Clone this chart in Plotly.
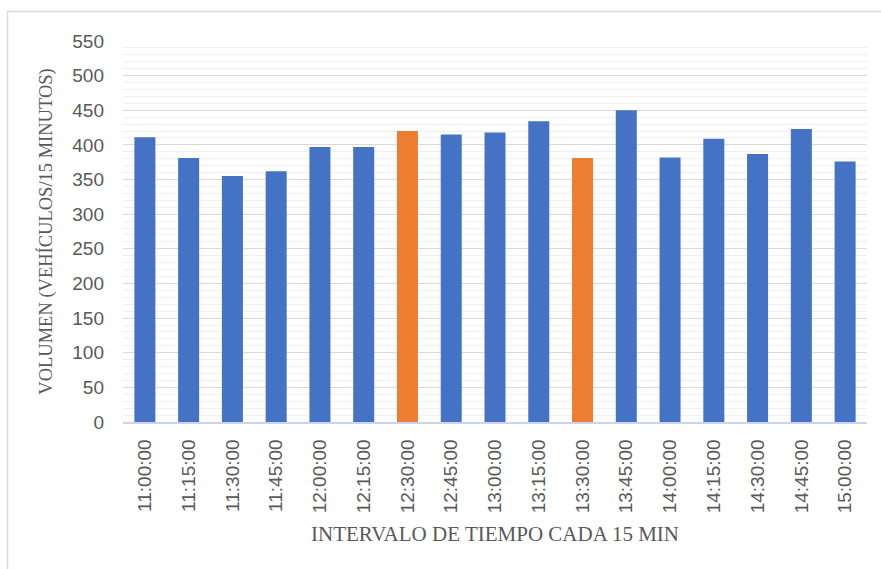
import plotly.graph_objects as go

categories = ["11:00:00", "11:15:00", "11:30:00", "11:45:00", "12:00:00", "12:15:00",
              "12:30:00", "12:45:00", "13:00:00", "13:15:00", "13:30:00", "13:45:00",
              "14:00:00", "14:15:00", "14:30:00", "14:45:00", "15:00:00"]
volumes = [411, 381, 355, 362, 397, 397, 420, 415, 418, 434, 381, 450, 382, 409, 387, 423, 376]
highlighted = ["12:30:00", "13:30:00"]

BLUE = "#4472C4"
ORANGE = "#ED7D31"
colors = [ORANGE if c in highlighted else BLUE for c in categories]

W, H = 881, 569
L, R, T, B = 123, 14, 41, 147
pw, ph = W - L - R, H - T - B

fig = go.Figure(go.Bar(
    x=categories, y=volumes, marker=dict(color=colors, line=dict(width=0)),
    width=0.48,
))

def px_to_paper_x(px):
    return (px - L) / pw

def px_to_paper_y(py):
    return (H - B - py) / ph

fig.update_layout(
    width=W, height=H,
    margin=dict(l=L, r=R, t=T, b=B),
    paper_bgcolor="white", plot_bgcolor="white",
    showlegend=False,
    font=dict(family="Liberation Sans", color="#595959"),
    xaxis=dict(
        type="category",
        tickangle=-90,
        tickfont=dict(family="Liberation Sans", size=19, color="#595959"),
        showline=True, linecolor="#C9D5EA", linewidth=1.5,
        showgrid=False, ticks="", ticklabelstandoff=8,
        title=dict(text="INTERVALO DE TIEMPO CADA 15 MIN",
                   font=dict(family="Liberation Serif", size=21, color="#595959"),
                   standoff=14),
    ),
    yaxis=dict(
        range=[0, 550],
        dtick=50,
        tickfont=dict(family="Liberation Sans", size=19, color="#595959"),
        showgrid=True, gridcolor="#D9D9D9", gridwidth=1,
        minor=dict(dtick=10, showgrid=True, gridcolor="#F0F0F0", gridwidth=1),
        zeroline=False, showline=False, ticks="", ticklabelstandoff=18,
        title=dict(text="VOLUMEN (VEHÍCULOS/15 MINUTOS)",
                   font=dict(family="Liberation Serif", size=18.5, color="#595959"),
                   standoff=14),
    ),
    shapes=[dict(
        type="rect", xref="paper", yref="paper",
        x0=px_to_paper_x(7.5), x1=px_to_paper_x(890),
        y0=px_to_paper_y(580), y1=px_to_paper_y(11.5),
        line=dict(color="#D9D9D9", width=1.5), fillcolor="rgba(0,0,0,0)", layer="below",
    )],
)

fig.write_html("out.html", config={"displayModeBar": False},
               post_script="document.body.style.margin='0';document.body.style.overflow='hidden';")
